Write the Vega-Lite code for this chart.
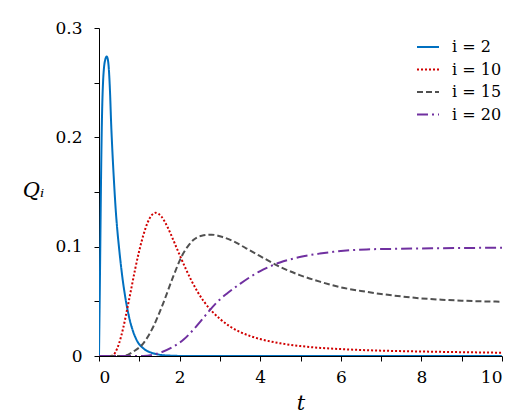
{
  "$schema": "https://vega.github.io/schema/vega-lite/v6.json",
  "width": 403,
  "height": 328,
  "autosize": "none",
  "padding": {"left": 99, "top": 28, "right": 28, "bottom": 59},
  "background": "white",
  "config": {
    "view": {"stroke": null},
    "font": "DejaVu Serif",
    "axis": {"grid": false, "domainColor": "#000000", "tickColor": "#000000", "labelColor": "#000000", "titleColor": "#000000", "labelFont": "DejaVu Serif", "titleFont": "DejaVu Serif", "labelFontSize": 17, "tickSize": 5, "domainWidth": 1, "tickWidth": 1},
    "legend": {"labelFont": "DejaVu Serif"}
  },
  "data": {"values": [
    {"t":0,"Q":0,"s":"i = 2"},{"t":0.01,"Q":0.03,"s":"i = 2"},{"t":0.02,"Q":0.06,"s":"i = 2"},{"t":0.035,"Q":0.11,"s":"i = 2"},{"t":0.05,"Q":0.16,"s":"i = 2"},{"t":0.065,"Q":0.2,"s":"i = 2"},{"t":0.08,"Q":0.228,"s":"i = 2"},{"t":0.1,"Q":0.25,"s":"i = 2"},{"t":0.125,"Q":0.264,"s":"i = 2"},{"t":0.155,"Q":0.271,"s":"i = 2"},{"t":0.19,"Q":0.274,"s":"i = 2"},{"t":0.215,"Q":0.272,"s":"i = 2"},{"t":0.245,"Q":0.262,"s":"i = 2"},{"t":0.275,"Q":0.24,"s":"i = 2"},{"t":0.3,"Q":0.214,"s":"i = 2"},{"t":0.33,"Q":0.189,"s":"i = 2"},{"t":0.37,"Q":0.161,"s":"i = 2"},{"t":0.42,"Q":0.131,"s":"i = 2"},{"t":0.46,"Q":0.113,"s":"i = 2"},{"t":0.5,"Q":0.098,"s":"i = 2"},{"t":0.58,"Q":0.072,"s":"i = 2"},{"t":0.66,"Q":0.052,"s":"i = 2"},{"t":0.75,"Q":0.035,"s":"i = 2"},{"t":0.85,"Q":0.022,"s":"i = 2"},{"t":0.95,"Q":0.0135,"s":"i = 2"},{"t":1.1,"Q":0.007,"s":"i = 2"},{"t":1.3,"Q":0.003,"s":"i = 2"},{"t":1.5,"Q":0.0012,"s":"i = 2"},{"t":1.8,"Q":0.0003,"s":"i = 2"},{"t":2.2,"Q":0,"s":"i = 2"},{"t":10,"Q":0,"s":"i = 2"},
    {"t":0,"Q":0,"s":"i = 10"},{"t":0.3,"Q":0,"s":"i = 10"},{"t":0.35,"Q":0.0008,"s":"i = 10"},{"t":0.4,"Q":0.003,"s":"i = 10"},{"t":0.45,"Q":0.0068,"s":"i = 10"},{"t":0.5,"Q":0.0118,"s":"i = 10"},{"t":0.55,"Q":0.018,"s":"i = 10"},{"t":0.6,"Q":0.0255,"s":"i = 10"},{"t":0.7,"Q":0.043,"s":"i = 10"},{"t":0.8,"Q":0.0615,"s":"i = 10"},{"t":0.9,"Q":0.08,"s":"i = 10"},{"t":1.0,"Q":0.0965,"s":"i = 10"},{"t":1.1,"Q":0.1105,"s":"i = 10"},{"t":1.2,"Q":0.1215,"s":"i = 10"},{"t":1.3,"Q":0.1285,"s":"i = 10"},{"t":1.35,"Q":0.1302,"s":"i = 10"},{"t":1.405,"Q":0.131,"s":"i = 10"},{"t":1.55,"Q":0.1275,"s":"i = 10"},{"t":1.7,"Q":0.118,"s":"i = 10"},{"t":1.85,"Q":0.1055,"s":"i = 10"},{"t":2.0,"Q":0.0925,"s":"i = 10"},{"t":2.15,"Q":0.08,"s":"i = 10"},{"t":2.3,"Q":0.0685,"s":"i = 10"},{"t":2.45,"Q":0.0585,"s":"i = 10"},{"t":2.6,"Q":0.05,"s":"i = 10"},{"t":2.8,"Q":0.041,"s":"i = 10"},{"t":3.0,"Q":0.034,"s":"i = 10"},{"t":3.25,"Q":0.027,"s":"i = 10"},{"t":3.5,"Q":0.022,"s":"i = 10"},{"t":3.75,"Q":0.0183,"s":"i = 10"},{"t":4.0,"Q":0.0155,"s":"i = 10"},{"t":4.5,"Q":0.0116,"s":"i = 10"},{"t":5,"Q":0.0091,"s":"i = 10"},{"t":5.5,"Q":0.0074,"s":"i = 10"},{"t":6,"Q":0.0063,"s":"i = 10"},{"t":7,"Q":0.0049,"s":"i = 10"},{"t":8,"Q":0.0041,"s":"i = 10"},{"t":9,"Q":0.0035,"s":"i = 10"},{"t":10,"Q":0.003,"s":"i = 10"},
    {"t":0,"Q":0,"s":"i = 15"},{"t":0.6,"Q":0,"s":"i = 15"},{"t":0.85,"Q":0.004,"s":"i = 15"},{"t":1.1,"Q":0.0116,"s":"i = 15"},{"t":1.35,"Q":0.027,"s":"i = 15"},{"t":1.59,"Q":0.048,"s":"i = 15"},{"t":1.84,"Q":0.0725,"s":"i = 15"},{"t":2.05,"Q":0.091,"s":"i = 15"},{"t":2.2,"Q":0.1,"s":"i = 15"},{"t":2.34,"Q":0.106,"s":"i = 15"},{"t":2.55,"Q":0.11,"s":"i = 15"},{"t":2.79,"Q":0.111,"s":"i = 15"},{"t":3.05,"Q":0.109,"s":"i = 15"},{"t":3.33,"Q":0.105,"s":"i = 15"},{"t":3.65,"Q":0.0985,"s":"i = 15"},{"t":3.99,"Q":0.0915,"s":"i = 15"},{"t":4.49,"Q":0.0816,"s":"i = 15"},{"t":4.98,"Q":0.074,"s":"i = 15"},{"t":5.48,"Q":0.068,"s":"i = 15"},{"t":6,"Q":0.0628,"s":"i = 15"},{"t":6.5,"Q":0.0595,"s":"i = 15"},{"t":7,"Q":0.0567,"s":"i = 15"},{"t":7.5,"Q":0.0545,"s":"i = 15"},{"t":8,"Q":0.0527,"s":"i = 15"},{"t":8.5,"Q":0.0515,"s":"i = 15"},{"t":9,"Q":0.0506,"s":"i = 15"},{"t":9.5,"Q":0.05,"s":"i = 15"},{"t":10,"Q":0.0497,"s":"i = 15"},
    {"t":0,"Q":0,"s":"i = 20"},{"t":1.1,"Q":0,"s":"i = 20"},{"t":1.43,"Q":0.002,"s":"i = 20"},{"t":1.84,"Q":0.0085,"s":"i = 20"},{"t":2.1,"Q":0.015,"s":"i = 20"},{"t":2.34,"Q":0.024,"s":"i = 20"},{"t":2.55,"Q":0.033,"s":"i = 20"},{"t":2.75,"Q":0.042,"s":"i = 20"},{"t":2.95,"Q":0.05,"s":"i = 20"},{"t":3.17,"Q":0.057,"s":"i = 20"},{"t":3.5,"Q":0.066,"s":"i = 20"},{"t":3.99,"Q":0.0775,"s":"i = 20"},{"t":4.49,"Q":0.0855,"s":"i = 20"},{"t":4.98,"Q":0.0905,"s":"i = 20"},{"t":5.48,"Q":0.0937,"s":"i = 20"},{"t":5.81,"Q":0.0953,"s":"i = 20"},{"t":6.64,"Q":0.0975,"s":"i = 20"},{"t":7.3,"Q":0.098,"s":"i = 20"},{"t":8,"Q":0.0984,"s":"i = 20"},{"t":9,"Q":0.0988,"s":"i = 20"},{"t":10,"Q":0.099,"s":"i = 20"}
  ]},
  "mark": {"type": "line", "interpolate": "monotone", "strokeWidth": 2, "clip": true},
  "encoding": {
    "x": {"field": "t", "type": "quantitative", "scale": {"domain": [0, 10], "nice": false},
      "axis": {"values": [0,1,2,3,4,5,6,7,8,9,10], "labelExpr": "datum.value % 2 == 0 ? datum.label : ''", "labelPadding": 8, "title": "t", "titleFontSize": 21, "titleFontStyle": "italic", "titleFontWeight": "normal", "titleY": 47, "titleBaseline": "middle"}},
    "y": {"field": "Q", "type": "quantitative", "scale": {"domain": [0, 0.3], "nice": false},
      "axis": {"values": [0,0.05,0.1,0.15,0.2,0.25,0.3], "format": "~g", "labelExpr": "round(datum.value*20) % 2 == 0 ? datum.label : ''", "labelPadding": 12, "title": "Qᵢ", "titleAngle": 0, "titleFontSize": 21, "titleFontStyle": "italic", "titleFontWeight": "normal", "titleX": -66, "titleY": 162, "titleAlign": "center", "titleBaseline": "middle"}},
    "color": {"field": "s", "type": "nominal", "sort": ["i = 2", "i = 10", "i = 15", "i = 20"],
      "scale": {"domain": ["i = 2", "i = 10", "i = 15", "i = 20"], "range": ["#0070C0", "#D00000", "#505050", "#7030A0"]},
      "legend": {"title": null, "orient": "none", "legendX": 317, "legendY": 7, "symbolType": "stroke", "symbolSize": 484, "symbolStrokeWidth": 2, "labelFont": "DejaVu Serif", "labelFontSize": 16, "labelColor": "#000000", "rowPadding": 2.5, "labelOffset": 12}},
    "strokeDash": {"field": "s", "type": "nominal", "sort": ["i = 2", "i = 10", "i = 15", "i = 20"],
      "scale": {"domain": ["i = 2", "i = 10", "i = 15", "i = 20"], "range": [[1, 0], [2, 2], [6, 3], [11, 4, 2, 4]]}}
  }
}
